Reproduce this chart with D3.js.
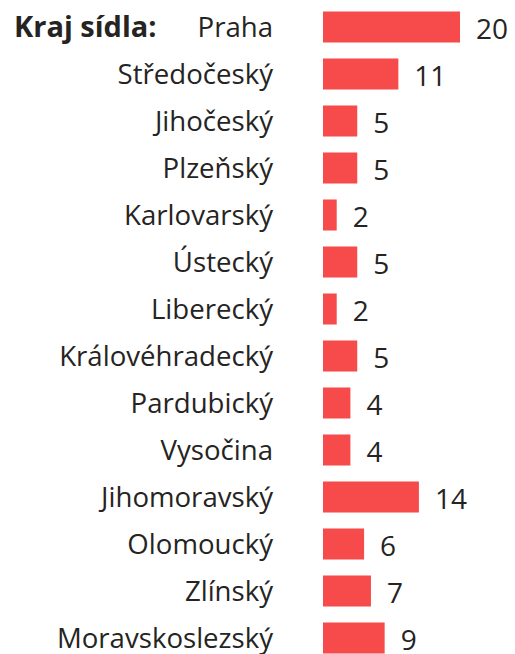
<!DOCTYPE html>
<html>
<head>
<meta charset="utf-8">
<script src="https://d3js.org/d3.v7.min.js"></script>
<style>
body {
  margin: 0;
  background: white;
  font-family: "Open Sans", "Noto Sans", sans-serif;
}
</style>
</head>
<body>
<div id="chart"></div>
<script>
// data
const regions = ["Praha", "Středočeský", "Jihočeský", "Plzeňský", "Karlovarský", "Ústecký", "Liberecký",
  "Královéhradecký", "Pardubický", "Vysočina", "Jihomoravský", "Olomoucký", "Zlínský", "Moravskoslezský"];
const counts = [20, 11, 5, 5, 2, 5, 2, 5, 4, 4, 14, 6, 7, 9];
const title = "Kraj sídla:";

const width = 515;
const height = 654;
const barLeft = 323;
const barRight = 460;

const data = regions.map((r, i) => ({region: r, value: counts[i]}));

const x = d3.scaleLinear()
  .domain([0, 20])
  .range([barLeft, barRight]);

const y = d3.scaleBand()
  .domain(regions)
  .range([3.5, 661.5])
  .paddingInner(0.34)
  .paddingOuter(0.17);

const svg = d3.create("svg")
  .attr("width", width)
  .attr("height", height)
  .attr("viewBox", [0, 0, width, height]);

// bars
svg.append("g")
  .selectAll("rect")
  .data(data)
  .join("rect")
    .attr("x", x(0))
    .attr("y", d => y(d.region))
    .attr("width", d => x(d.value) - x(0))
    .attr("height", y.bandwidth())
    .attr("fill", "#F74B4B");

// category labels
svg.append("g")
  .selectAll("text")
  .data(data)
  .join("text")
    .attr("x", 273)
    .attr("y", d => y(d.region) + y.bandwidth() / 2)
    .attr("dy", "0.36em")
    .attr("text-anchor", "end")
    .attr("fill", "#252423")
    .attr("font-size", 27.6)
    .text(d => d.region);

// value labels
svg.append("g")
  .selectAll("text")
  .data(data)
  .join("text")
    .attr("x", d => x(d.value) + 16)
    .attr("y", d => y(d.region) + y.bandwidth() / 2)
    .attr("dy", "0.42em")
    .attr("fill", "#252423")
    .attr("font-size", 28)
    .text(d => d.value);

// title
svg.append("text")
  .attr("x", 14)
  .attr("y", y(regions[0]) + y.bandwidth() / 2)
  .attr("dy", "0.36em")
  .attr("fill", "#252423")
  .attr("font-size", 29)
  .attr("font-weight", "bold")
  .text(title);

document.getElementById("chart").appendChild(svg.node());
</script>
</body>
</html>
